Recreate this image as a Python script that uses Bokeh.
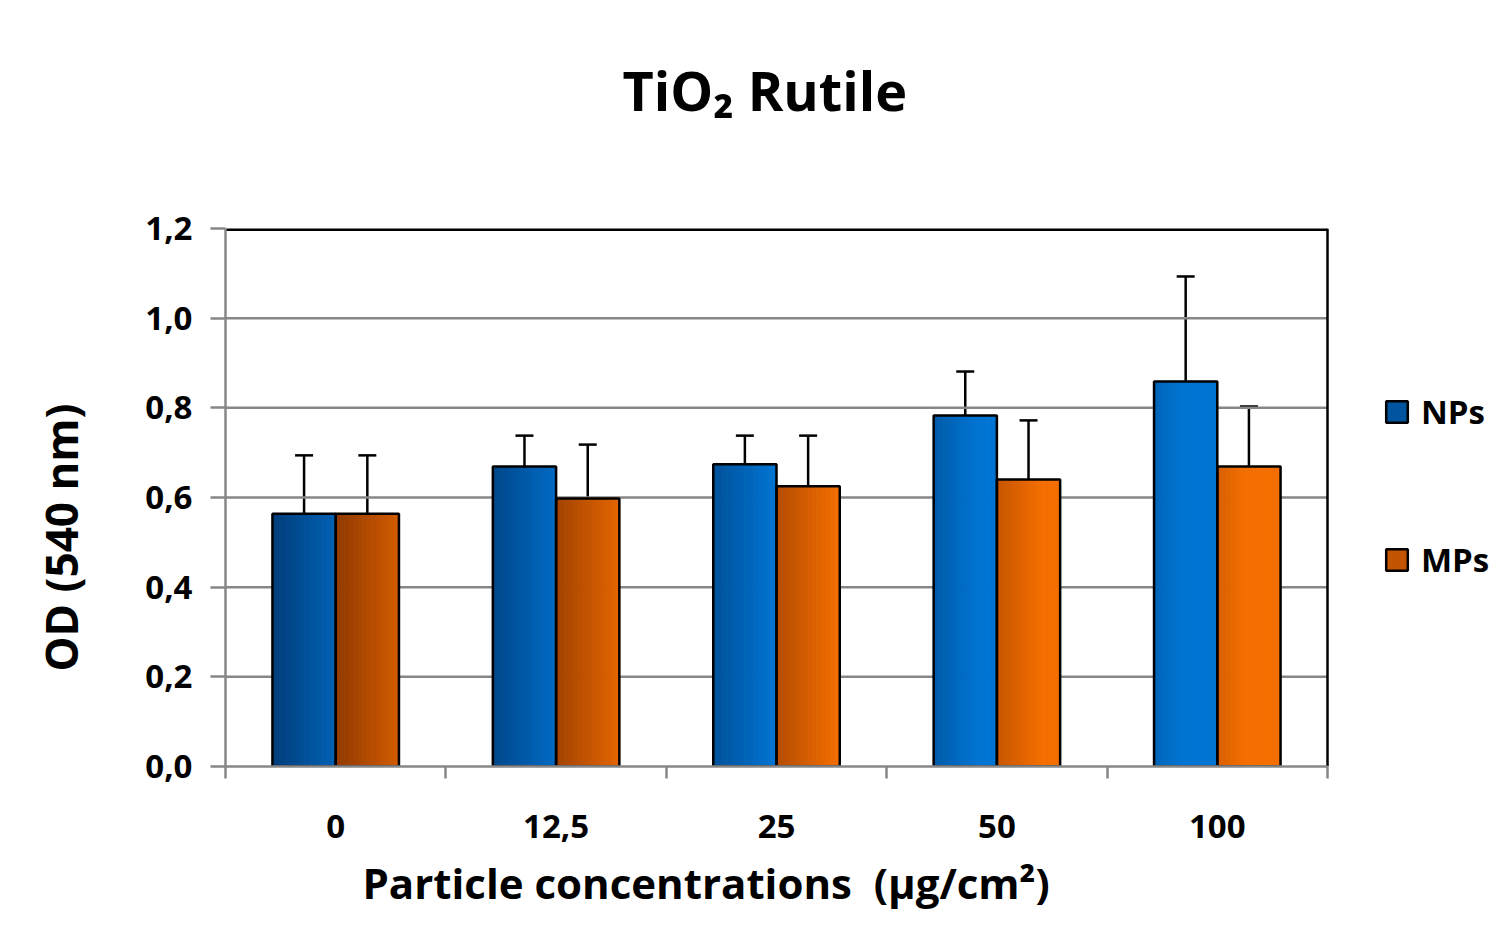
from bokeh.plotting import figure
from bokeh.models import (Range1d, FixedTicker, Whisker, TeeHead, ColumnDataSource,
                          Legend, LegendItem, Title)
from bokeh.embed import file_html
from bokeh.resources import INLINE

# ---------------- data ----------------
categories = ["0", "12,5", "25", "50", "100"]
nps_values = [0.564, 0.669, 0.674, 0.783, 0.859]
nps_errors = [0.130, 0.069, 0.064, 0.098, 0.234]
mps_values = [0.564, 0.598, 0.625, 0.640, 0.669]
mps_errors = [0.130, 0.120, 0.113, 0.132, 0.134]
y_ticks = [0.0, 0.2, 0.4, 0.6, 0.8, 1.0, 1.2]
y_tick_labels = ["0,0", "0,2", "0,4", "0,6", "0,8", "1,0", "1,2"]
series_names = ["NPs", "MPs"]
title_text = "TiO₂ Rutile"
x_title = "Particle concentrations\u00a0 (µg/cm²)"
y_title = "OD (540 nm)"

# ---------------- style ----------------
FONT = "Open Sans"
BAR_W = 0.287
N_STRIPS = 14
blue_dark, blue_light = (0x00, 0x3A, 0x75), (0x00, 0x74, 0xD2)
orng_dark, orng_light = (0x8A, 0x36, 0x00), (0xF4, 0x6E, 0x00)
GRAY = "#878787"
N = len(categories)
X_END = N * 1264 / 1102   # frame extends to the right to host the legend


def mix(c1, c2, t):
    t = max(0.0, min(1.0, t))
    r, g, b = (round(a + (b_ - a) * t) for a, b_ in zip(c1, c2))
    return "#%02x%02x%02x" % (r, g, b)


p = figure(width=1489, height=925, output_backend="svg", toolbar_location=None,
           x_range=Range1d(0, X_END), y_range=Range1d(0, 1.2),
           min_border_left=225, min_border_right=0, min_border_top=228,
           min_border_bottom=159, background_fill_color="white",
           border_fill_color="white")
p.outline_line_color = None
p.xgrid.grid_line_color = None
p.ygrid.grid_line_color = None

# horizontal grid lines within the category area
grid_y = y_ticks[1:-1]
p.segment(x0=[0] * len(grid_y), x1=[N] * len(grid_y), y0=grid_y, y1=grid_y,
          line_color=GRAY, line_width=2.5)

strips = dict(left=[], right=[], top=[], bottom=[], color=[])
outline = dict(left=[], right=[], top=[], bottom=[])
whisk = dict(base=[], lower=[], upper=[])

for s_idx, (vals, errs, cd, cl) in enumerate([
        (nps_values, nps_errors, blue_dark, blue_light),
        (mps_values, mps_errors, orng_dark, orng_light)]):
    for i, (v, e) in enumerate(zip(vals, errs)):
        left = i + 0.5 - BAR_W + s_idx * BAR_W
        right = left + BAR_W
        for j in range(N_STRIPS):
            s = (j + 0.5) / N_STRIPS
            t = 0.05 + 0.62 * s + 0.17 * i
            strips["left"].append(left + j * BAR_W / N_STRIPS)
            strips["right"].append(left + (j + 1) * BAR_W / N_STRIPS)
            strips["top"].append(v)
            strips["bottom"].append(0)
            strips["color"].append(mix(cd, cl, t))
        outline["left"].append(left)
        outline["right"].append(right)
        outline["top"].append(v)
        outline["bottom"].append(0)
        whisk["base"].append((left + right) / 2)
        whisk["lower"].append(v)
        whisk["upper"].append(v + e)

p.quad(left="left", right="right", top="top", bottom="bottom",
       fill_color="color", line_color="color", line_width=1,
       source=ColumnDataSource(strips))
p.quad(left="left", right="right", top="top", bottom="bottom",
       fill_color=None, line_color="black", line_width=2.5,
       source=ColumnDataSource(outline))

w = Whisker(base="base", lower="lower", upper="upper", dimension="height",
            source=ColumnDataSource(whisk), line_color="black", line_width=2.5,
            lower_head=None,
            upper_head=TeeHead(size=18, line_color="black", line_width=2.5))
p.add_layout(w)

# plot-area border (top and right, black)
p.segment(x0=[0], x1=[N], y0=[y_ticks[-1]], y1=[y_ticks[-1]],
          line_color="black", line_width=5)
p.segment(x0=[N], x1=[N], y0=[0], y1=[y_ticks[-1]],
          line_color="black", line_width=2.5)

# legend-only renderers
nan = float("nan")
leg_np = p.quad(left=[nan], right=[nan], top=[nan], bottom=[nan],
                fill_color=mix(blue_dark, blue_light, 0.45), line_color="black", line_width=2.5)
leg_mp = p.quad(left=[nan], right=[nan], top=[nan], bottom=[nan],
                fill_color=mix(orng_dark, orng_light, 0.55), line_color="black", line_width=2.5)
legend = Legend(items=[LegendItem(label=series_names[0], renderers=[leg_np]),
                       LegendItem(label=series_names[1], renderers=[leg_mp])],
                location=(1158, 184), orientation="vertical",
                label_text_font=FONT, label_text_font_style="bold",
                label_text_font_size="33px", label_text_color="black",
                glyph_width=27, glyph_height=27, label_height=40,
                spacing=103, padding=0, margin=0, label_standoff=11,
                border_line_alpha=0, background_fill_alpha=0)
p.add_layout(legend, "center")

# axes
p.xaxis.bounds = (0, N)
p.xaxis.ticker = FixedTicker(ticks=[i + 0.5 for i in range(N)],
                             minor_ticks=list(range(N + 1)))
p.xaxis.major_label_overrides = {i + 0.5: c for i, c in enumerate(categories)}
p.xaxis.major_tick_in = 0
p.xaxis.major_tick_out = 0
p.xaxis.minor_tick_in = 0
p.xaxis.minor_tick_out = 12
p.xaxis.minor_tick_line_color = GRAY
p.xaxis.minor_tick_line_width = 2.5
p.xaxis.major_label_standoff = 36

p.yaxis.bounds = (0, 1.2)
p.yaxis.ticker = FixedTicker(ticks=y_ticks, minor_ticks=[])
p.yaxis.major_label_overrides = {t: l for t, l in zip(y_ticks, y_tick_labels)}
p.yaxis.major_tick_in = 0
p.yaxis.major_tick_out = 15
p.yaxis.major_tick_line_color = GRAY
p.yaxis.major_tick_line_width = 2.5
# trailing no-break spaces shift the rotated label slightly downwards, as in the reference
p.yaxis.axis_label = y_title + "\u00a0" * 7
p.yaxis.major_label_standoff = 18
p.yaxis.axis_label_standoff = 51

for ax in (p.xaxis, p.yaxis):
    ax.axis_line_color = GRAY
    ax.axis_line_width = 2.5
    ax.major_label_text_font = FONT
    ax.major_label_text_font_style = "bold"
    ax.major_label_text_font_size = "33px"
    ax.major_label_text_color = "black"
    ax.axis_label_text_font = FONT
    ax.axis_label_text_font_style = "bold"
    ax.axis_label_text_color = "black"
p.yaxis.axis_label_text_font_size = "44px"

# x-axis title as a title below the axis (allows exact horizontal placement)
xt = Title(text=x_title, align="left", offset=137, standoff=23,
           text_font=FONT, text_font_style="bold", text_font_size="42px",
           text_color="black")
p.add_layout(xt, "below")

# empty second line lifts the visible title line without moving the plot area
p.title.text = title_text + "\n\u00a0"
p.title.align = "left"
p.title.offset = 397
p.title.text_font = FONT
p.title.text_font_style = "bold"
p.title.text_font_size = "54px"
p.title.text_color = "black"
p.title.standoff = 55

open("out.html", "w").write(file_html(p, INLINE))
